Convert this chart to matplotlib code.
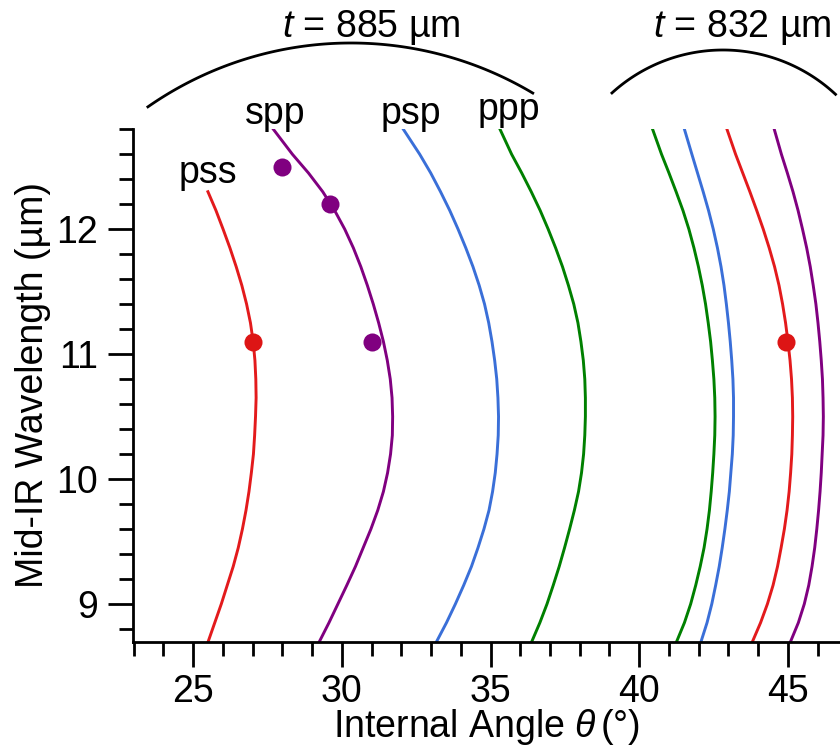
import numpy as np
import matplotlib
matplotlib.use("Agg")
import matplotlib.pyplot as plt
from matplotlib.lines import Line2D

plt.rcParams['font.family'] = ['Liberation Sans', 'DejaVu Sans']
plt.rcParams['mathtext.fontset'] = 'custom'
plt.rcParams['mathtext.rm'] = 'Liberation Sans'
plt.rcParams['mathtext.it'] = 'Liberation Sans:italic'

# wavelength grid the curves were read at (um)
wl = [8.70, 8.85, 9.00, 9.15, 9.30, 9.45, 9.60, 9.75, 9.90, 10.05, 10.20, 10.35, 10.50, 10.65,
      10.80, 10.95, 11.10, 11.25, 11.40, 11.55, 11.70, 11.85, 12.00, 12.15, 12.30, 12.45, 12.60, 12.80]
wl_pss885 = wl[:25]  # pss curve of the thicker crystal stops near 12.3 um

# t = 885 um crystal, phase-matching angle (deg)
x885_pss = [25.51, 25.73, 25.95, 26.15, 26.35, 26.52, 26.66, 26.78, 26.88, 26.96, 27.03, 27.07, 27.10,
            27.12, 27.11, 27.08, 27.02, 26.93, 26.80, 26.64, 26.45, 26.24, 26.01, 25.77, 25.50]
x885_spp = [29.25, 29.57, 29.87, 30.17, 30.46, 30.72, 30.98, 31.21, 31.40, 31.54, 31.64, 31.70, 31.71, 31.69,
            31.63, 31.53, 31.40, 31.24, 31.06, 30.86, 30.64, 30.39, 30.10, 29.76, 29.36, 28.88, 28.34, 27.70]
x885_psp = [33.19, 33.52, 33.82, 34.10, 34.36, 34.58, 34.78, 34.95, 35.07, 35.16, 35.22, 35.26, 35.27, 35.25,
            35.21, 35.14, 35.05, 34.94, 34.80, 34.62, 34.41, 34.17, 33.91, 33.63, 33.32, 32.99, 32.62, 32.07]
x885_ppp = [36.39, 36.66, 36.90, 37.11, 37.31, 37.49, 37.66, 37.82, 37.96, 38.06, 38.13, 38.17, 38.19, 38.19,
            38.17, 38.12, 38.04, 37.94, 37.80, 37.62, 37.42, 37.19, 36.94, 36.67, 36.37, 36.05, 35.71, 35.32]

# t = 832 um crystal
x832_ppp = [41.26, 41.52, 41.73, 41.90, 42.05, 42.18, 42.28, 42.36, 42.42, 42.47, 42.51, 42.54, 42.55, 42.54,
            42.51, 42.46, 42.40, 42.32, 42.23, 42.12, 41.99, 41.84, 41.67, 41.47, 41.24, 41.00, 40.75, 40.45]
x832_psp = [42.08, 42.28, 42.44, 42.57, 42.69, 42.79, 42.88, 42.96, 43.03, 43.08, 43.13, 43.16, 43.17, 43.17,
            43.15, 43.11, 43.06, 43.00, 42.93, 42.85, 42.75, 42.63, 42.49, 42.33, 42.15, 41.96, 41.77, 41.52]
x832_pss = [43.81, 44.08, 44.31, 44.50, 44.65, 44.77, 44.88, 44.97, 45.04, 45.09, 45.13, 45.15, 45.16, 45.15,
            45.12, 45.07, 45.00, 44.92, 44.82, 44.70, 44.55, 44.37, 44.17, 43.95, 43.72, 43.48, 43.24, 42.95]
x832_spp = [45.09, 45.35, 45.55, 45.70, 45.81, 45.90, 45.97, 46.03, 46.08, 46.12, 46.15, 46.18, 46.19, 46.18,
            46.16, 46.12, 46.07, 46.01, 45.94, 45.85, 45.75, 45.63, 45.49, 45.34, 45.17, 44.98, 44.78, 44.54]

# measured points
meas_pss_x = [27.02, 44.93]
meas_pss_y = [11.1, 11.1]
meas_spp_x = [28.0, 29.61, 31.01]
meas_spp_y = [12.5, 12.2, 11.1]

names = ["pss", "spp", "psp", "ppp"]
colors = {"pss": "#e31a1c", "spp": "#800080", "psp": "#3a6fd8", "ppp": "#008000"}

fig = plt.figure(figsize=(8.4, 7.49), dpi=100)
ax = fig.add_axes([0.1583, 0.1433, 0.8417, 0.6841])

lw = 2.1
ax.plot(x885_pss, wl_pss885, color=colors["pss"], lw=lw)
ax.plot(x885_spp, wl, color=colors["spp"], lw=lw)
ax.plot(x885_psp, wl, color=colors["psp"], lw=lw)
ax.plot(x885_ppp, wl, color=colors["ppp"], lw=lw)
ax.plot(x832_ppp, wl, color=colors["ppp"], lw=lw)
ax.plot(x832_psp, wl, color=colors["psp"], lw=lw)
ax.plot(x832_pss, wl, color=colors["pss"], lw=lw)
ax.plot(x832_spp, wl, color=colors["spp"], lw=lw)

ax.plot(meas_pss_x, meas_pss_y, "o", color="#dd1515", ms=13, mec="none")
ax.plot(meas_spp_x, meas_spp_y, "o", color="#800080", ms=13, mec="none")

fs = 27
label_pos = {"pss": (25.49, 12.366), "spp": (27.76, 12.846),
             "psp": (32.32, 12.846), "ppp": (35.63, 12.872)}
for n in names:
    ax.text(*label_pos[n], n, fontsize=fs, ha="center", va="baseline", clip_on=False)

ax.set_xlim(22.98, 46.75)
ax.set_ylim(8.698, 12.80)
ax.spines["top"].set_visible(False)
ax.spines["right"].set_visible(False)
for s in ["left", "bottom"]:
    ax.spines[s].set_linewidth(2)
ax.set_xticks(np.arange(25, 47, 5))
ax.set_xticks(np.arange(23, 47, 1), minor=True)
ax.set_yticks(np.arange(9, 13, 1))
ax.set_yticks(np.arange(8.8, 12.81, 0.2), minor=True)
ax.tick_params(which="major", direction="out", length=18, width=2, labelsize=fs, pad=7)
ax.tick_params(axis="x", which="major", pad=5)
ax.tick_params(which="minor", direction="out", length=10, width=2)
ax.set_xlabel(r"Internal Angle $\theta\,$(°)", fontsize=fs, labelpad=-2)
ax.set_ylabel("Mid-IR Wavelength (µm)", fontsize=fs, labelpad=4)

# brackets over each crystal group, in figure pixels
W, H = 840, 749
def arc(cx, cy, r, a1, a2):
    a = np.radians(np.linspace(a1, a2, 100))
    px = cx + r * np.cos(a)
    py = cy - r * np.sin(a)
    fig.add_artist(Line2D(px / W, (H - py) / H, color="black", lw=2,
                          transform=fig.transFigure))

arc(351, 398, 355, 59.2, 124.9)
arc(723, 215, 165, 47.0, 132.3)
fig.text(371 / W, (H - 37) / H, r"$t$ = 885 µm", fontsize=fs, ha="center", va="baseline")
fig.text(742.5 / W, (H - 37) / H, r"$t$ = 832 µm", fontsize=fs, ha="center", va="baseline")

fig.savefig("out.png", dpi=100)
